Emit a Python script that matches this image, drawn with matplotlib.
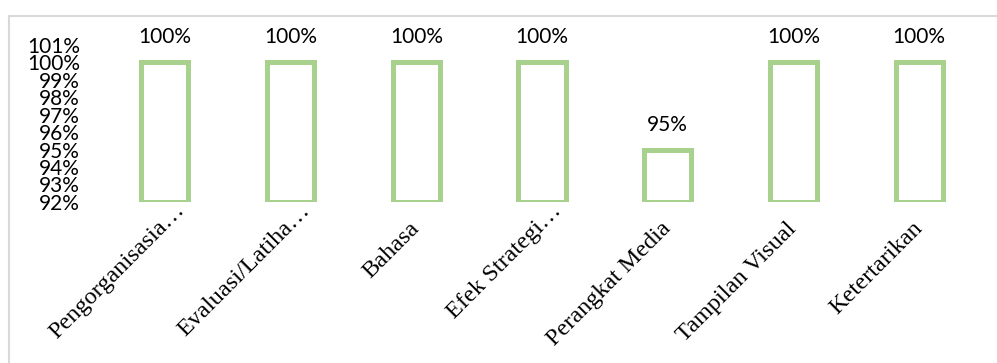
import matplotlib
matplotlib.use("Agg")
import matplotlib.pyplot as plt
from matplotlib.lines import Line2D

categories = ["Pengorganisasia…", "Evaluasi/Latiha…", "Bahasa", "Efek Strategi…",
              "Perangkat Media", "Tampilan Visual", "Ketertarikan"]
values = [100, 100, 100, 100, 95, 100, 100]
yticks = list(range(92, 102))

GREEN = "#A9D18E"
GRID_GRAY = "#D9D9D9"

fig = plt.figure(figsize=(9.97, 3.63), dpi=100)
ax = fig.add_axes([0.1023, 0.4441, 0.8827, 0.4317])

x = list(range(len(categories)))
ax.bar(x, [v - 92 for v in values], bottom=92, width=0.375,
       facecolor="white", edgecolor=GREEN, linewidth=3.6)

for xi, v in zip(x, values):
    ax.annotate(f"{v}%", (xi, v), xytext=(0, 18), textcoords="offset points",
                ha="center", va="center", fontsize=15, family="Lato", color="black")

ax.set_xlim(-0.5, len(categories) - 0.5)
ax.set_ylim(92, 101)
ax.set_yticks(yticks)
ax.set_yticklabels([f"{t}%" for t in yticks], fontsize=15, family="Lato")
ax.tick_params(axis="y", length=0, pad=16)
ax.set_xticks(x)
ax.set_xticklabels([])
ax.tick_params(axis="x", length=0)

# category labels: rotated 45 deg; Excel pushes the truncated ones a bit further up
for xi, cat in zip(x, categories):
    off = (12, -4) if cat.endswith("…") else (0, -17)
    ax.annotate(cat, (xi, 0), xycoords=("data", "axes fraction"),
                xytext=off, textcoords="offset points",
                rotation=45, rotation_mode="anchor", ha="right", va="center",
                fontsize=17.5, family="Liberation Serif", color="black")

for s in ax.spines.values():
    s.set_visible(False)
ax.patch.set_alpha(0)

# chart area border (top and left edges visible in the crop)
fig.add_artist(Line2D([9 / 997, 1], [1 - 15.5 / 363, 1 - 15.5 / 363],
                      transform=fig.transFigure, color=GRID_GRAY, lw=1.5))
fig.add_artist(Line2D([9 / 997, 9 / 997], [0, 1 - 15.5 / 363],
                      transform=fig.transFigure, color=GRID_GRAY, lw=1.5))

fig.savefig("out.png", dpi=100)
